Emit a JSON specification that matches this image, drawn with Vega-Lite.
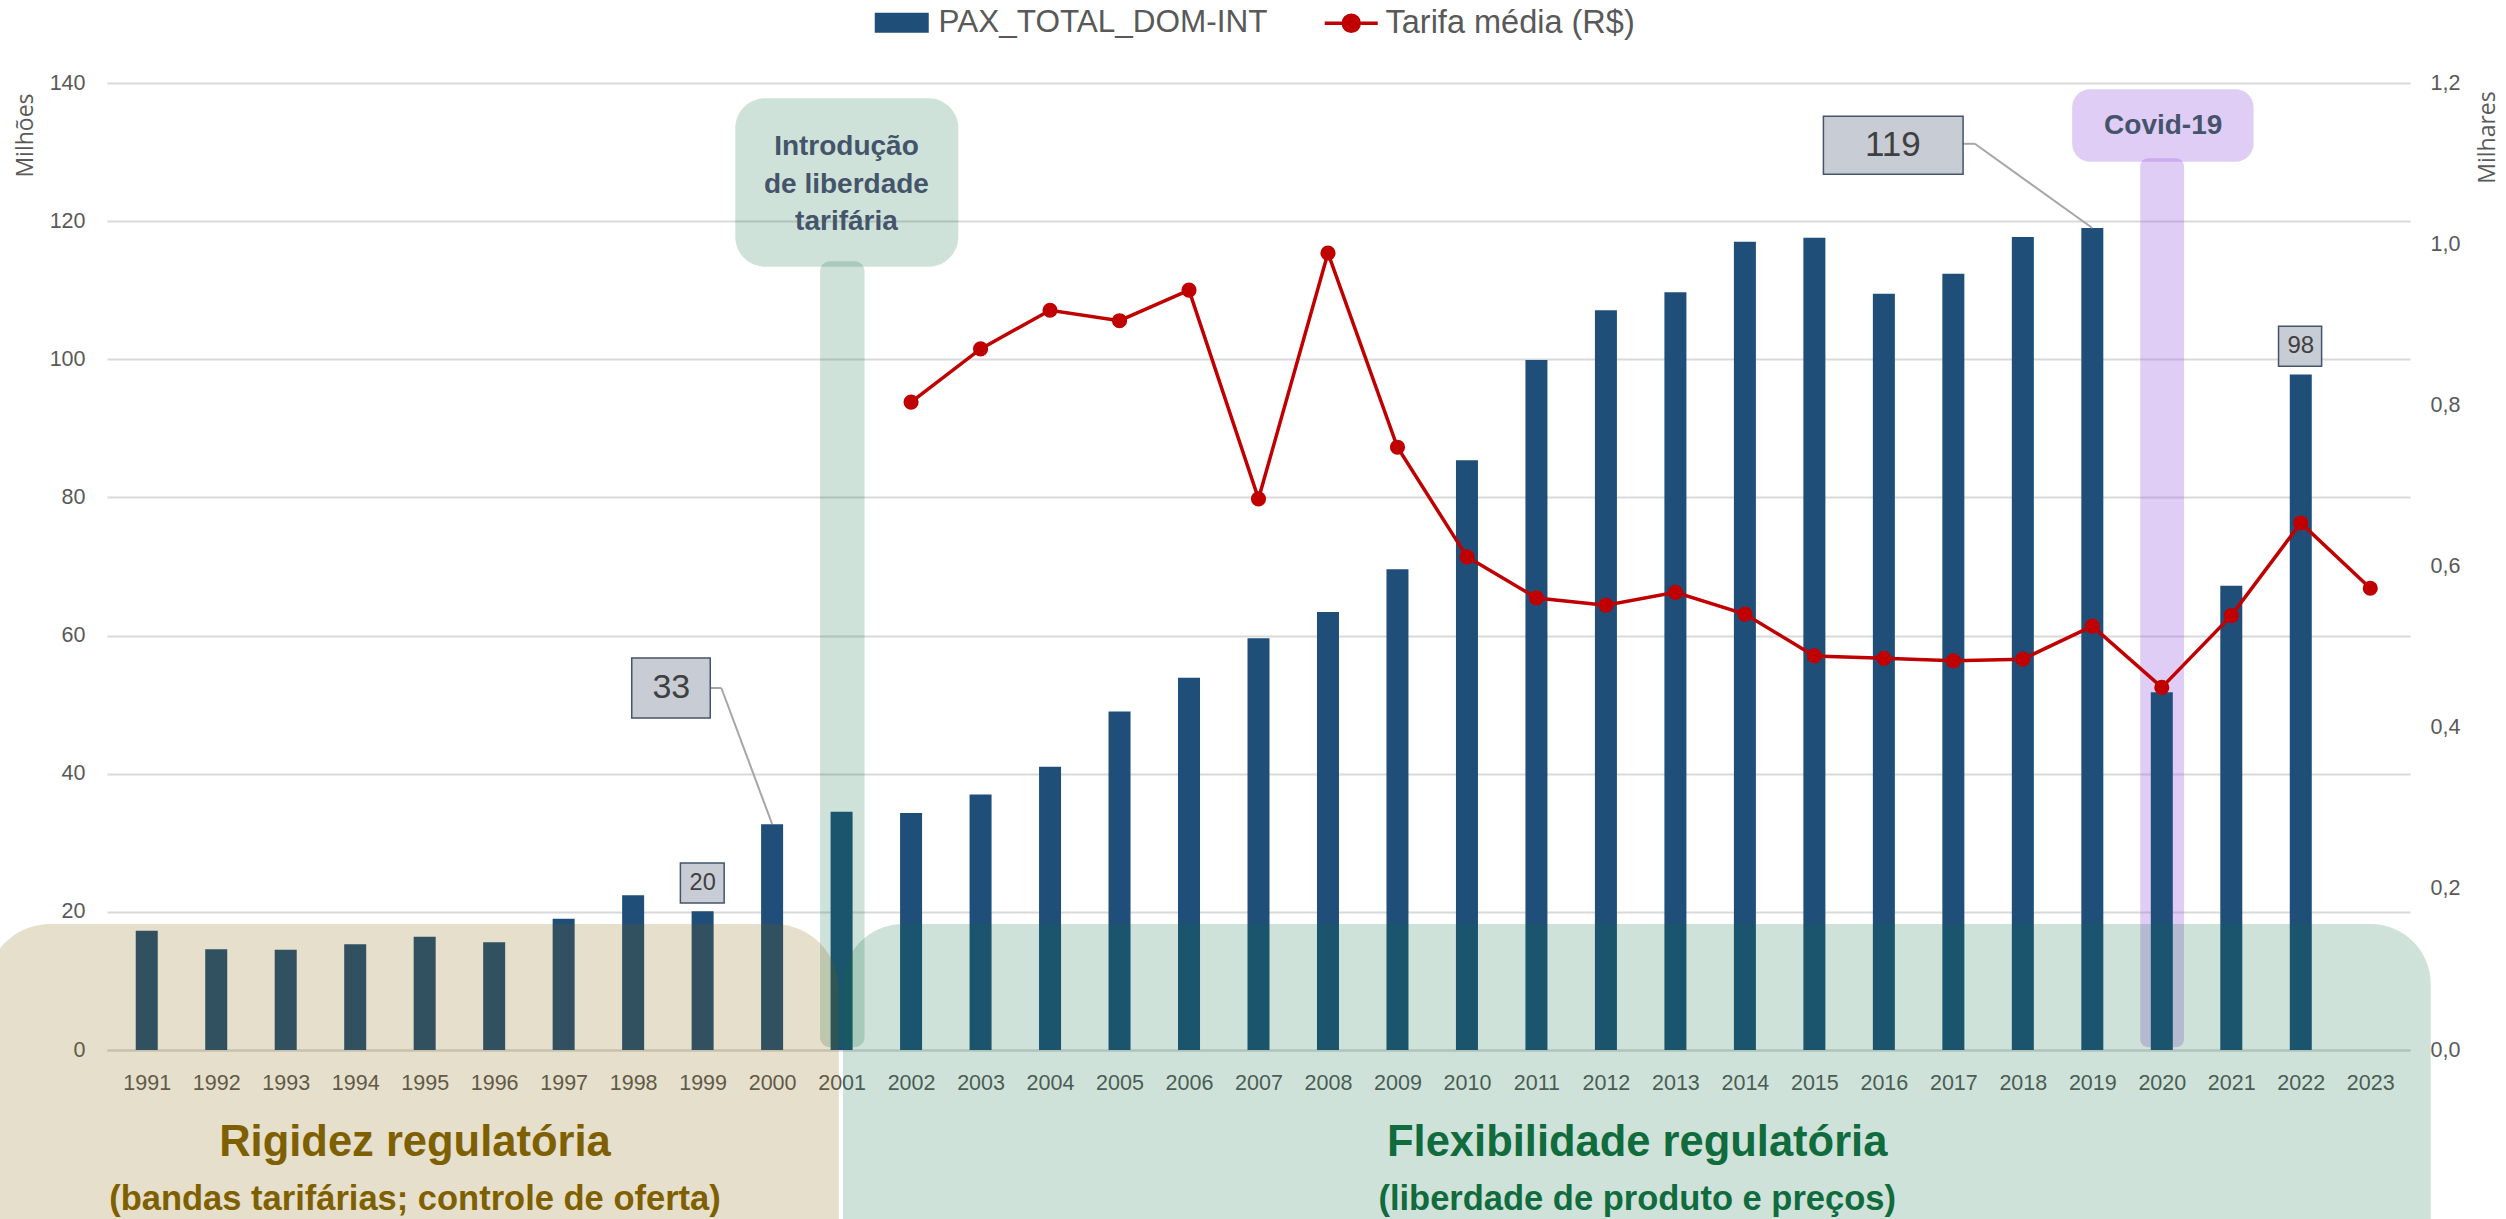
{
"$schema": "https://vega.github.io/schema/vega-lite/v6.json",
"width": 2303, "height": 967,
"autosize": {"type": "none"},
"padding": {"left": 107, "top": 83, "right": 96, "bottom": 169},
"background": "white",
"config": {"view": {"stroke": null}, "font": "Liberation Sans"},
"data": {"values": [
{"year":1991,"pax":17.25,"tarifa":null},
{"year":1992,"pax":14.6,"tarifa":null},
{"year":1993,"pax":14.5,"tarifa":null},
{"year":1994,"pax":15.3,"tarifa":null},
{"year":1995,"pax":16.4,"tarifa":null},
{"year":1996,"pax":15.6,"tarifa":null},
{"year":1997,"pax":19.0,"tarifa":null},
{"year":1998,"pax":22.4,"tarifa":null},
{"year":1999,"pax":20.1,"tarifa":null},
{"year":2000,"pax":32.7,"tarifa":null},
{"year":2001,"pax":34.5,"tarifa":null},
{"year":2002,"pax":34.3,"tarifa":0.804},
{"year":2003,"pax":37.0,"tarifa":0.870},
{"year":2004,"pax":41.0,"tarifa":0.918},
{"year":2005,"pax":49.0,"tarifa":0.905},
{"year":2006,"pax":53.9,"tarifa":0.943},
{"year":2007,"pax":59.6,"tarifa":0.684},
{"year":2008,"pax":63.4,"tarifa":0.989},
{"year":2009,"pax":69.6,"tarifa":0.748},
{"year":2010,"pax":85.4,"tarifa":0.612},
{"year":2011,"pax":99.9,"tarifa":0.561},
{"year":2012,"pax":107.1,"tarifa":0.552},
{"year":2013,"pax":109.7,"tarifa":0.568},
{"year":2014,"pax":117.0,"tarifa":0.541},
{"year":2015,"pax":117.6,"tarifa":0.489},
{"year":2016,"pax":109.5,"tarifa":0.486},
{"year":2017,"pax":112.4,"tarifa":0.483},
{"year":2018,"pax":117.7,"tarifa":0.485},
{"year":2019,"pax":119.0,"tarifa":0.526},
{"year":2020,"pax":51.8,"tarifa":0.450},
{"year":2021,"pax":67.2,"tarifa":0.539},
{"year":2022,"pax":97.8,"tarifa":0.654},
{"year":2023,"pax":null,"tarifa":0.573}
]},
"layer": [
{"layer": [
 {"data": {"values": [{}]},
  "mark": {"type": "rect", "fill": "#a066e0", "opacity": 0.33, "cornerRadius": 8, "clip": false},
  "encoding": {"x": {"datum": 2019.69, "type": "quantitative"}, "x2": {"datum": 2020.32},
   "y": {"datum": 129.1, "type": "quantitative"}, "y2": {"datum": 0.4}}},
 {"data": {"values": [{}]},
  "mark": {"type": "rect", "fill": "#a066e0", "opacity": 0.33, "cornerRadius": 18, "clip": false},
  "encoding": {"x": {"datum": 2018.71, "type": "quantitative"}, "x2": {"datum": 2021.32},
   "y": {"datum": 139.1, "type": "quantitative"}, "y2": {"datum": 128.6}}},
 {"data": {"values": [{}]},
  "mark": {"type": "text", "font": "Liberation Sans", "fontSize": 28, "fontWeight": "bold", "color": "#44546a", "align": "center", "baseline": "middle", "clip": false},
  "encoding": {"x": {"datum": 2020.02, "type": "quantitative"},
   "y": {"datum": 133.8, "type": "quantitative"}, "text": {"value": "Covid-19"}}},
 {"transform": [{"filter": "isValid(datum.pax)"}],
  "mark": {"type": "bar", "width": 22},
  "encoding": {
   "x": {"field": "year", "type": "quantitative",
    "scale": {"domain": [1990.5, 2023.5], "nice": false, "zero": false},
    "axis": {"values": [1991,1992,1993,1994,1995,1996,1997,1998,1999,2000,2001,2002,2003,2004,2005,2006,2007,2008,2009,2010,2011,2012,2013,2014,2015,2016,2017,2018,2019,2020,2021,2022,2023],
     "format": "d", "title": null, "grid": false, "ticks": false, "tickSize": 0, "labelPadding": 22,
     "labelFontSize": 21.5, "labelColor": "#595959", "labelFont": "Liberation Sans", "domainColor": "#d9d9d9", "domainWidth": 2,
     "labelFlush": false, "labelOverlap": false, "labelBound": false}},
   "y": {"field": "pax", "type": "quantitative", "scale": {"domain": [0, 140], "nice": false},
    "axis": {"values": [0,20,40,60,80,100,120,140], "title": "Milhões", "grid": true, "gridColor": "#d9d9d9", "gridWidth": 2,
     "domain": false, "ticks": false, "tickSize": 0, "labelPadding": 22, "labelFontSize": 21.5, "labelColor": "#595959", "labelFont": "Liberation Sans",
     "titleFont": "Open Sans", "titleFontSize": 23, "titleFontWeight": "normal", "titleColor": "#595959",
     "titleX": -82, "titleY": 52, "titleAngle": -90, "titleAlign": "center", "titleBaseline": "middle"}},
   "fill": {"datum": "PAX_TOTAL_DOM-INT", "type": "nominal", "scale": {"range": ["#1f4e79"]},
    "legend": {"orient": "none", "legendX": 779, "legendY": -76, "title": null, "padding": 0,
     "symbolType": "M-2.7,-1H2.7V1H-2.7Z", "symbolSize": 400, "symbolStrokeWidth": 0,
     "labelFontSize": 31.5, "labelFont": "Liberation Sans", "labelColor": "#595959", "labelOffset": 21, "labelLimit": 1000}}
  }},
 {"data": {"values": [{}]},
  "mark": {"type": "rect", "fill": "#107040", "opacity": 0.2, "cornerRadius": 10, "clip": false},
  "encoding": {"x": {"datum": 2000.69, "type": "quantitative"}, "x2": {"datum": 2001.33},
   "y": {"datum": 114.2, "type": "quantitative"}, "y2": {"datum": 0.4}}},
 {"data": {"values": [{}]},
  "mark": {"type": "rect", "fill": "#107040", "opacity": 0.2, "cornerRadius": 30, "clip": false},
  "encoding": {"x": {"datum": 1999.47, "type": "quantitative"}, "x2": {"datum": 2002.68},
   "y": {"datum": 137.8, "type": "quantitative"}, "y2": {"datum": 113.4}}},
 {"data": {"values": [{}]},
  "mark": {"type": "text", "font": "Liberation Sans", "fontSize": 28, "fontWeight": "bold", "color": "#44546a", "align": "center", "baseline": "middle", "lineHeight": 37.5, "clip": false},
  "encoding": {"x": {"datum": 2001.07, "type": "quantitative"},
   "y": {"datum": 130.7, "type": "quantitative"}, "text": {"value": ["Introdução", "de liberdade", "tarifária"]}}},
 {"data": {"values": [{}]},
  "mark": {"type": "rect", "fill": "#7f6000", "opacity": 0.2, "cornerRadius": 65, "clip": false},
  "encoding": {"x": {"datum": 1988.68, "type": "quantitative"}, "x2": {"datum": 2000.96},
   "y": {"datum": 18.24, "type": "quantitative"}, "y2": {"datum": -45}}},
 {"data": {"values": [{}]},
  "mark": {"type": "rect", "fill": "#107040", "opacity": 0.2, "cornerRadius": 60, "clip": false},
  "encoding": {"x": {"datum": 2001.02, "type": "quantitative"}, "x2": {"datum": 2023.87},
   "y": {"datum": 18.24, "type": "quantitative"}, "y2": {"datum": -45}}},
 {"data": {"values": [{}]},
  "mark": {"type": "text", "font": "Liberation Sans", "fontSize": 43.5, "fontWeight": "bold", "color": "#7f6000", "align": "center", "baseline": "middle", "clip": false},
  "encoding": {"x": {"datum": 1994.86, "type": "quantitative"},
   "y": {"datum": -13.46, "type": "quantitative"}, "text": {"value": "Rigidez regulatória"}}},
 {"data": {"values": [{}]},
  "mark": {"type": "text", "font": "Liberation Sans", "fontSize": 34.5, "fontWeight": "bold", "color": "#7f6000", "align": "center", "baseline": "middle", "clip": false},
  "encoding": {"x": {"datum": 1994.86, "type": "quantitative"},
   "y": {"datum": -21.7, "type": "quantitative"}, "text": {"value": "(bandas tarifárias; controle de oferta)"}}},
 {"data": {"values": [{}]},
  "mark": {"type": "text", "font": "Liberation Sans", "fontSize": 43.5, "fontWeight": "bold", "color": "#106b3d", "align": "center", "baseline": "middle", "clip": false},
  "encoding": {"x": {"datum": 2012.45, "type": "quantitative"},
   "y": {"datum": -13.46, "type": "quantitative"}, "text": {"value": "Flexibilidade regulatória"}}},
 {"data": {"values": [{}]},
  "mark": {"type": "text", "font": "Liberation Sans", "fontSize": 34.5, "fontWeight": "bold", "color": "#106b3d", "align": "center", "baseline": "middle", "clip": false},
  "encoding": {"x": {"datum": 2012.45, "type": "quantitative"},
   "y": {"datum": -21.7, "type": "quantitative"}, "text": {"value": "(liberdade de produto e preços)"}}},
 {"data": {"values": [{}]},
  "mark": {"type": "rule", "color": "#a6a6a6", "strokeWidth": 2, "clip": false},
  "encoding": {"x": {"datum": 1999.11, "type": "quantitative"}, "x2": {"datum": 1999.27},
   "y": {"datum": 52.41, "type": "quantitative"}, "y2": {"datum": 52.41}}},
 {"data": {"values": [{}]},
  "mark": {"type": "rule", "color": "#a6a6a6", "strokeWidth": 2, "clip": false},
  "encoding": {"x": {"datum": 1999.27, "type": "quantitative"}, "x2": {"datum": 2000.0},
   "y": {"datum": 52.41, "type": "quantitative"}, "y2": {"datum": 32.72}}},
 {"data": {"values": [{}]},
  "mark": {"type": "rule", "color": "#a6a6a6", "strokeWidth": 2, "clip": false},
  "encoding": {"x": {"datum": 2017.14, "type": "quantitative"}, "x2": {"datum": 2017.31},
   "y": {"datum": 131.2, "type": "quantitative"}, "y2": {"datum": 131.2}}},
 {"data": {"values": [{}]},
  "mark": {"type": "rule", "color": "#a6a6a6", "strokeWidth": 2, "clip": false},
  "encoding": {"x": {"datum": 2017.31, "type": "quantitative"}, "x2": {"datum": 2019.0},
   "y": {"datum": 131.2, "type": "quantitative"}, "y2": {"datum": 119.0}}},
 {"data": {"values": [{}]},
  "mark": {"type": "rect", "fill": "#c8ccd4", "stroke": "#44546a", "strokeWidth": 1.5, "clip": false},
  "encoding": {"x": {"datum": 1997.98, "type": "quantitative"}, "x2": {"datum": 1999.11},
   "y": {"datum": 56.75, "type": "quantitative"}, "y2": {"datum": 48.07}}},
 {"data": {"values": [{}]},
  "mark": {"type": "rect", "fill": "#c8ccd4", "stroke": "#44546a", "strokeWidth": 1.5, "clip": false},
  "encoding": {"x": {"datum": 2015.13, "type": "quantitative"}, "x2": {"datum": 2017.14},
   "y": {"datum": 135.2, "type": "quantitative"}, "y2": {"datum": 126.8}}},
 {"data": {"values": [{}]},
  "mark": {"type": "rect", "fill": "#c8ccd4", "stroke": "#44546a", "strokeWidth": 1.5, "clip": false},
  "encoding": {"x": {"datum": 1998.68, "type": "quantitative"}, "x2": {"datum": 1999.31},
   "y": {"datum": 27.07, "type": "quantitative"}, "y2": {"datum": 21.28}}},
 {"data": {"values": [{}]},
  "mark": {"type": "rect", "fill": "#c8ccd4", "stroke": "#44546a", "strokeWidth": 1.5, "clip": false},
  "encoding": {"x": {"datum": 2021.68, "type": "quantitative"}, "x2": {"datum": 2022.3},
   "y": {"datum": 104.8, "type": "quantitative"}, "y2": {"datum": 99.0}}},
 {"data": {"values": [{}]},
  "mark": {"type": "text", "font": "Liberation Sans", "fontSize": 34, "color": "#404040", "align": "center", "baseline": "middle", "clip": false},
  "encoding": {"x": {"datum": 1998.55, "type": "quantitative"},
   "y": {"datum": 52.4, "type": "quantitative"}, "text": {"value": "33"}}},
 {"data": {"values": [{}]},
  "mark": {"type": "text", "font": "Liberation Sans", "fontSize": 35, "color": "#404040", "align": "center", "baseline": "middle", "clip": false},
  "encoding": {"x": {"datum": 2016.13, "type": "quantitative"},
   "y": {"datum": 131.0, "type": "quantitative"}, "text": {"value": "119"}}},
 {"data": {"values": [{}]},
  "mark": {"type": "text", "font": "Liberation Sans", "fontSize": 23.5, "color": "#404040", "align": "center", "baseline": "middle", "clip": false},
  "encoding": {"x": {"datum": 1999.0, "type": "quantitative"},
   "y": {"datum": 24.2, "type": "quantitative"}, "text": {"value": "20"}}},
 {"data": {"values": [{}]},
  "mark": {"type": "text", "font": "Liberation Sans", "fontSize": 24, "color": "#404040", "align": "center", "baseline": "middle", "clip": false},
  "encoding": {"x": {"datum": 2022.0, "type": "quantitative"},
   "y": {"datum": 101.9, "type": "quantitative"}, "text": {"value": "98"}}}
]},
{"layer": [
 {"transform": [{"filter": "isValid(datum.tarifa)"}],
  "mark": {"type": "line", "strokeWidth": 3.5},
  "encoding": {
   "x": {"field": "year", "type": "quantitative"},
   "y": {"field": "tarifa", "type": "quantitative", "scale": {"domain": [0, 1.2], "nice": false},
    "axis": {"orient": "right", "values": [0,0.2,0.4,0.6,0.8,1.0,1.2], "labelExpr": "replace(format(datum.value, '.1f'), '.', ',')",
     "title": "Milhares", "grid": false, "domain": false, "ticks": false, "tickSize": 0, "labelPadding": 20,
     "labelFontSize": 21.5, "labelColor": "#595959", "labelFont": "Liberation Sans",
     "titleFont": "Open Sans", "titleFontSize": 23, "titleFontWeight": "normal", "titleColor": "#595959",
     "titleX": 77, "titleY": 54, "titleAngle": -90, "titleAlign": "center", "titleBaseline": "middle"}},
   "stroke": {"datum": "Tarifa média (R$)", "type": "nominal", "scale": {"range": ["#c00000"]},
    "legend": {"orient": "none", "legendX": 1228, "legendY": -76, "title": null, "padding": 0,
     "symbolType": "M-2.65,0H2.65M0.8,0A0.8,0.8 0 1 1 -0.8,0A0.8,0.8 0 1 1 0.8,0", "symbolSize": 400, "symbolStrokeWidth": 3.5,
     "symbolFillColor": "#c00000",
     "labelFontSize": 32.5, "labelFont": "Liberation Sans", "labelColor": "#595959", "labelOffset": 18, "labelLimit": 1000,
     "encode": {"symbols": {"update": {"fill": {"value": "#c00000"}}}}}}
  }},
 {"transform": [{"filter": "isValid(datum.tarifa)"}],
  "mark": {"type": "circle", "size": 230, "color": "#c00000", "opacity": 1},
  "encoding": {
   "x": {"field": "year", "type": "quantitative"},
   "y": {"field": "tarifa", "type": "quantitative"}
  }}
]}
],
"resolve": {"scale": {"y": "independent"}}
}
